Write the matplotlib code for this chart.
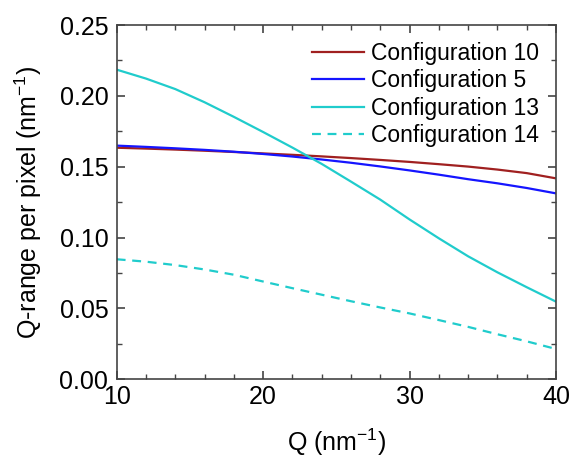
import matplotlib.pyplot as plt
from matplotlib.ticker import MultipleLocator

plt.rcParams['font.family'] = ['Liberation Sans', 'DejaVu Sans']

# Q values (nm^-1) and Q-range per pixel
q = [10, 12, 14, 16, 18, 20, 22, 24, 26, 28, 30, 32, 34, 36, 38, 40]
conf10 = [0.1634, 0.1628, 0.1621, 0.1613, 0.1604, 0.1594, 0.1584, 0.1573, 0.1561, 0.1548, 0.1534, 0.1518, 0.1501, 0.1480, 0.1455, 0.1418]
conf5 = [0.1649, 0.1640, 0.1630, 0.1619, 0.1606, 0.1590, 0.1572, 0.1551, 0.1528, 0.1502, 0.1474, 0.1444, 0.1412, 0.1383, 0.1350, 0.1312]
conf13 = [0.2185, 0.2122, 0.2048, 0.1955, 0.1852, 0.1745, 0.1635, 0.1520, 0.1395, 0.1268, 0.1128, 0.0995, 0.0868, 0.0755, 0.0650, 0.0548]
conf14 = [0.0847, 0.0830, 0.0806, 0.0775, 0.0738, 0.0690, 0.0643, 0.0597, 0.0551, 0.0507, 0.0465, 0.0418, 0.0370, 0.0318, 0.0268, 0.0214]

fig = plt.figure(figsize=(5.74, 4.58), dpi=100)
ax = fig.add_axes([0.2033, 0.1718, 0.7653, 0.7736])

ax.plot(q, conf10, color='#a02020', lw=1.6, label='Configuration 10')
ax.plot(q, conf5, color='#1515ff', lw=1.6, label='Configuration 5')
ax.plot(q, conf13, color='#20cccc', lw=1.6, label='Configuration 13')
ax.plot(q, conf14, color='#20cccc', lw=1.6, ls=(0, (4, 3)), label='Configuration 14')

ax.set_xlim(10, 40)
ax.set_ylim(0, 0.25)
ax.xaxis.set_major_locator(MultipleLocator(10))
ax.xaxis.set_minor_locator(MultipleLocator(2))
ax.yaxis.set_major_locator(MultipleLocator(0.05))
ax.yaxis.set_minor_locator(MultipleLocator(0.025))
ax.yaxis.set_major_formatter(plt.FormatStrFormatter('%.2f'))

ax.tick_params(which='both', direction='in', top=True, right=True, color='#444444')
ax.tick_params(which='major', length=6, width=1.2, labelsize=18)
ax.tick_params(which='minor', length=3.5, width=1.0)
ax.tick_params(axis='x', which='major', pad=4)
ax.tick_params(axis='y', which='major', pad=6)
for s in ax.spines.values():
    s.set_color('#444444')
    s.set_linewidth(1.2)

ax.set_xlabel('Q (nm$^{\\mathregular{-1}}$)', fontsize=18, labelpad=13)
ax.set_ylabel('Q-range per pixel (nm$^{\\mathregular{-1}}$)', fontsize=18, labelpad=11)

ax.legend(loc='upper right', bbox_to_anchor=(0.9825, 0.979), frameon=False,
          fontsize=16.5, handlelength=2.3, handletextpad=0.3,
          labelspacing=0.2, borderaxespad=0)

fig.savefig('out.png', dpi=100)
